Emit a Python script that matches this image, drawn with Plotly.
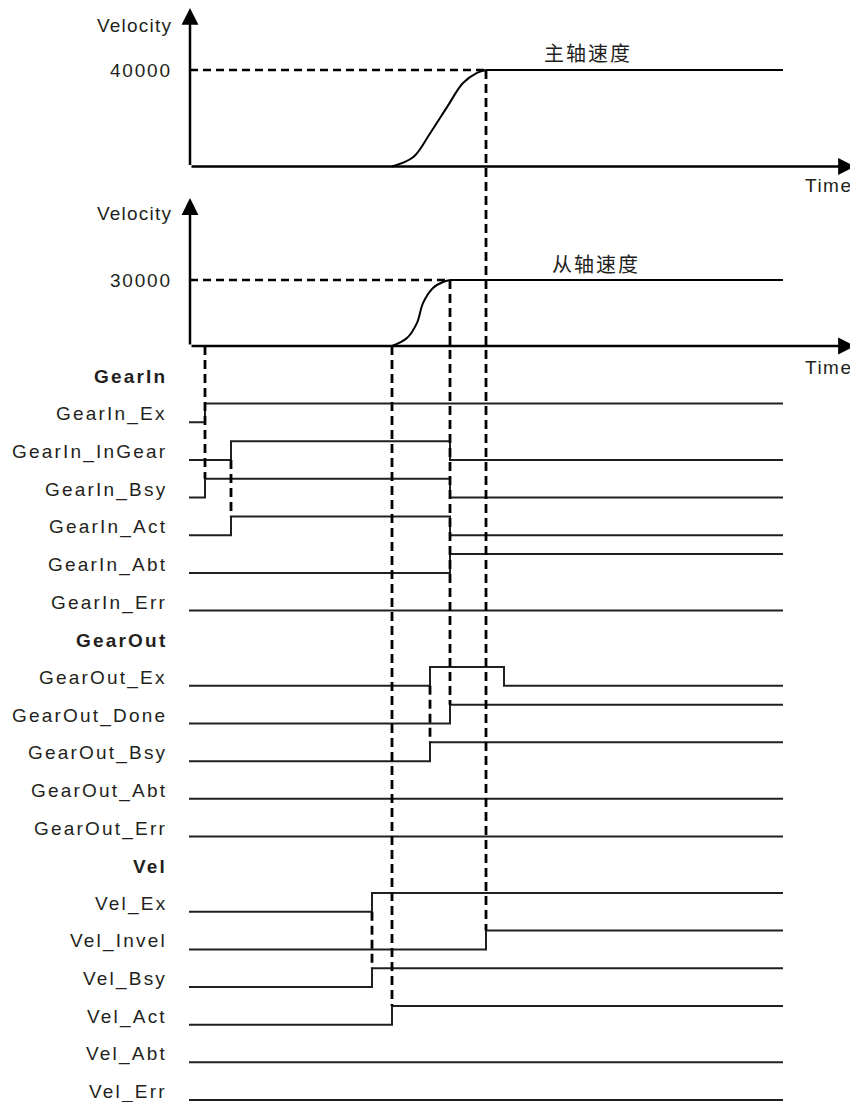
import plotly.graph_objects as go

W, H = 858, 1102
PAD = 8            # default body margin of the page around the plot div
FW, FH = W - PAD, H - PAD

# ----------------------------
# Data (time in arbitrary units, 0 = velocity axes)
# ----------------------------

t_start = -0.1     # signals start just left of the axis
t_end = 59.3       # end of every drawn signal / flat velocity
t_arrow = 66.5     # tip of the Time arrows

# master axis velocity (主轴速度)
master_t = [20.2, 22.3, 24.0, 25.7, 27.3, 28.7, 29.6]
master_v = [0, 3800, 13700, 24600, 34600, 38800, 40000]
master_target = 40000

# slave axis velocity (从轴速度)
slave_t = [20.2, 21.7, 22.7, 23.3, 24.3, 25.3, 26.0]
slave_v = [0, 3600, 10500, 19500, 26400, 29100, 30000]
slave_target = 30000

# signals: all start low, edges toggle the state
gearin_names = ["GearIn_Ex", "GearIn_InGear", "GearIn_Bsy", "GearIn_Act", "GearIn_Abt", "GearIn_Err"]
gearin_edges = [[1.5], [4.1, 26.0], [1.5, 26.0], [4.1, 26.0], [26.0], []]

gearout_names = ["GearOut_Ex", "GearOut_Done", "GearOut_Bsy", "GearOut_Abt", "GearOut_Err"]
gearout_edges = [[24.0, 31.4], [26.0], [24.0], [], []]

vel_names = ["Vel_Ex", "Vel_Invel", "Vel_Bsy", "Vel_Act", "Vel_Abt", "Vel_Err"]
vel_edges = [[18.2], [29.6], [18.2], [20.2], [], []]

# dashed guides: time, start (where, value), end (where, value)
guide_t = [1.5, 4.1, 20.2, 26.0, 29.6, 24.0, 18.2]
guide_from = [("slave", 0), ("GearIn_InGear", 0), ("slave", 0), ("slave", 30000),
              ("master", 40000), ("GearOut_Ex", 0), ("Vel_Ex", 0)]
guide_to = [("GearIn_Bsy", 1), ("GearIn_Act", 1), ("Vel_Act", 1), ("GearOut_Done", 1),
            ("Vel_Invel", 1), ("GearOut_Bsy", 1), ("Vel_Bsy", 1)]

# ----------------------------
# Geometry (pixels of the page, converted to the plot div)
# ----------------------------

X0_PX, PX_PER_T = 190 - PAD, 10
panels = {"master": (166.5 - PAD, 96.5 / 40000), "slave": (346 - PAD, 66 / 30000)}
ROW0_PX, ROW_H = 384.65 - PAD, 37.65
HIGH = 0.5

rows = ["GearIn"] + gearin_names + ["GearOut"] + gearout_names + ["Vel"] + vel_names
headers = {"GearIn", "GearOut", "Vel"}
row_of = {name: i for i, name in enumerate(rows)}
edges_of = dict(zip(gearin_names + gearout_names + vel_names,
                    gearin_edges + gearout_edges + vel_edges))


def px_to_row(px):
    return (px - ROW0_PX) / ROW_H


def to_row(where, val):
    if where in panels:
        zero, k = panels[where]
        return px_to_row(zero - val * k)
    return row_of[where] - HIGH * val


def vrange(panel):
    zero, k = panels[panel]
    return [-(FH - zero) / k, zero / k]


def page_v(panel, page_px):
    zero, k = panels[panel]
    return (zero - (page_px - PAD)) / k


def page_t(page_px):
    return (page_px - PAD - X0_PX) / PX_PER_T


INK = "#231f20"
FONT = "Liberation Sans, Arial, sans-serif"


def spaced(s, ls):
    return f'<span style="letter-spacing:{ls}px">{s}</span>'


fig = go.Figure()

# ----------------------------
# Velocity curves
# ----------------------------

for panel, ts, vs, target, yax in [("master", master_t, master_v, master_target, "y"),
                                   ("slave", slave_t, slave_v, slave_target, "y2")]:
    fig.add_trace(go.Scatter(x=ts, y=vs, mode="lines", yaxis=yax,
                             line=dict(color="black", width=2, shape="spline", smoothing=1.0)))
    fig.add_trace(go.Scatter(x=[ts[-1], t_end], y=[target, target], mode="lines", yaxis=yax,
                             line=dict(color="black", width=2)))
    fig.add_trace(go.Scatter(x=[0, ts[-1]], y=[target, target], mode="lines", yaxis=yax,
                             line=dict(color="black", width=2.6, dash="8px,5px")))

# ----------------------------
# Signals
# ----------------------------

for name in rows:
    if name in headers:
        continue
    r = row_of[name]
    state = 0
    xs, ys = [t_start], [r]
    for e in edges_of[name]:
        state ^= 1
        xs.append(e)
        ys.append(r - HIGH * state)
    xs.append(t_end)
    ys.append(r - HIGH * state)
    fig.add_trace(go.Scatter(x=xs, y=ys, mode="lines", yaxis="y3",
                             line=dict(color=INK, width=2, shape="hv")))

# dashed guides
gx, gy = [], []
for t, a, b in zip(guide_t, guide_from, guide_to):
    gx += [t, t, None]
    gy += [to_row(*a), to_row(*b), None]
fig.add_trace(go.Scatter(x=gx, y=gy, mode="lines", yaxis="y3",
                         line=dict(color="black", width=2.8, dash="9px,5px")))

# ----------------------------
# Axes arrows and text
# ----------------------------

ann = []
for panel, yax, tip_px in [("master", "y", 8), ("slave", "y2", 198)]:
    arrow = dict(xref="x", yref=yax, axref="x", ayref=yax, text="", showarrow=True,
                 arrowhead=2, arrowsize=1.35, arrowwidth=2.5, arrowcolor="black")
    ann.append(dict(x=t_arrow, y=0, ax=0, ay=0, **arrow))
    ann.append(dict(x=0, y=page_v(panel, tip_px), ax=0, ay=0, **arrow))

text_items = [
    ("Velocity", "master", 174, 25, 1.2),
    ("40000", "master", 174, 70, 1.8),
    ("Time", "master", 855, 185, 1.5),
    ("Velocity", "slave", 174, 213, 1.2),
    ("30000", "slave", 174, 280, 1.8),
    ("Time", "slave", 855, 367, 1.5),
]
for s, panel, xpx, ypx, ls in text_items:
    ann.append(dict(x=page_t(xpx), y=page_v(panel, ypx), xref="x",
                    yref="y" if panel == "master" else "y2",
                    text=spaced(s, ls), showarrow=False, xanchor="right", yanchor="middle",
                    font=dict(family=FONT, size=19, color=INK)))

for s, panel, xpx, ypx in [("主轴速度", "master", 588, 52), ("从轴速度", "slave", 596, 263)]:
    ann.append(dict(x=page_t(xpx), y=page_v(panel, ypx), xref="x",
                    yref="y" if panel == "master" else "y2",
                    text=spaced(s, 2), showarrow=False, xanchor="center", yanchor="middle",
                    font=dict(family="Noto Sans CJK SC", size=20, color=INK)))

for name in rows:
    label = f"<b>{name}</b>" if name in headers else name
    ann.append(dict(x=page_t(169), y=row_of[name] - 0.21, xref="x", yref="y3",
                    text=spaced(label, 2.2), showarrow=False, xanchor="right", yanchor="middle",
                    font=dict(family=FONT, size=19, color=INK)))

hidden = dict(visible=False, showgrid=False, zeroline=False, fixedrange=True)

fig.update_layout(
    width=FW, height=FH,
    margin=dict(l=0, r=0, t=0, b=0),
    paper_bgcolor="white", plot_bgcolor="white",
    showlegend=False,
    xaxis=dict(range=[-X0_PX / PX_PER_T, (FW - X0_PX) / PX_PER_T], domain=[0, 1], **hidden),
    yaxis=dict(range=vrange("master"), domain=[0, 1], **hidden),
    yaxis2=dict(range=vrange("slave"), overlaying="y", **hidden),
    yaxis3=dict(range=[px_to_row(FH), px_to_row(0)], overlaying="y", **hidden),
    annotations=ann,
)

fig.write_html("out.html")
